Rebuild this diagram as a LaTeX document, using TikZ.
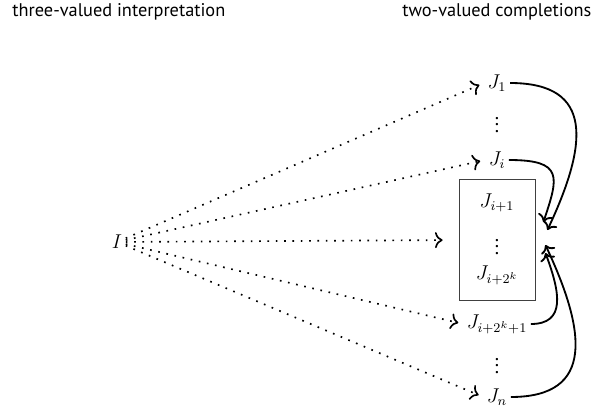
\documentclass[tikz,border=0pt]{standalone}
\usepackage{amsmath}
\usepackage{fontspec}
\setmainfont{PT Sans}
\usetikzlibrary{arrows,arrows.meta,positioning}
\tikzstyle{title} = [anchor=west, inner sep=0pt, font=\fontsize{11}{13}\selectfont]
\tikzstyle{interp} = [inner sep=2pt, font=\large]
\tikzstyle{gap} = [inner sep=0pt, font=\large]
\tikzstyle{group} = [draw, color=black!75, line width=0.5pt, minimum width=45.6pt, minimum height=72.6pt]
\tikzstyle{dotarrow} = [draw, loosely dotted, line width=1pt, -{To[scale=1.2]}, shorten >=3pt]
\tikzstyle{arrow} = [draw, line width=1.1pt, -{To[scale=1.1]}]
\newcommand{\interp}[2]{node (#1) [interp] {#2}}
\newcommand{\gap}[1]{node (#1) [gap] {$\vdots$}}

\begin{document}
\begin{tikzpicture}[x=0.6pt,y=-0.6pt]
\useasboundingbox (0,0) rectangle (591,411);
\path (12,12) node (tl) [title] {three-valued interpretation};
\path (402,12) node (tr) [title] {two-valued completions};
\path (117,242) \interp{i}{$I$};

\path (497,83) \interp{j1}{$J_1$};
\path (j1)+(0,37) \gap{d1};
\path (497,160) \interp{ji}{$J_i$};

\path (497,240) node (g) [group] {};
\path (g)+(0,-37) \interp{j2}{$J_{i+1}$};
\path (g)+(0,2) \gap{d2};
\path (g)+(0,35) \interp{j3}{$J_{i+2^k}$};

\path (g)+(0,84) \interp{j4}{$J_{i+2^k+1}$};
\path (j4)+(0,37) \gap{d3};
\path (497,397) \interp{jn}{$J_n$};

\path [dotarrow] (i) -- (j1.west);
\path [dotarrow] (i) -- (ji.west);
\path [dotarrow,shorten >=9.6pt] (i) -- (g.west);
\path [dotarrow] (i) -- (j4.west);
\path [dotarrow] (i) -- (jn.west);

\path [arrow] (j1.east) .. controls +(85,0) and +(40,-85) .. ([xshift=7.2pt,yshift=6pt]g.east);
\path [arrow] (ji.east) .. controls +(55,0) and +(15,-45) .. ([xshift=4.8pt,yshift=10.8pt]g.east);
\path [arrow] (j4.east) .. controls +(35,0) and +(15,40) .. ([xshift=6pt,yshift=-7.8pt]g.east);
\path [arrow] (jn.east) .. controls +(85,0) and +(40,85) .. ([xshift=6pt,yshift=-3pt]g.east);
\end{tikzpicture}
\end{document}
